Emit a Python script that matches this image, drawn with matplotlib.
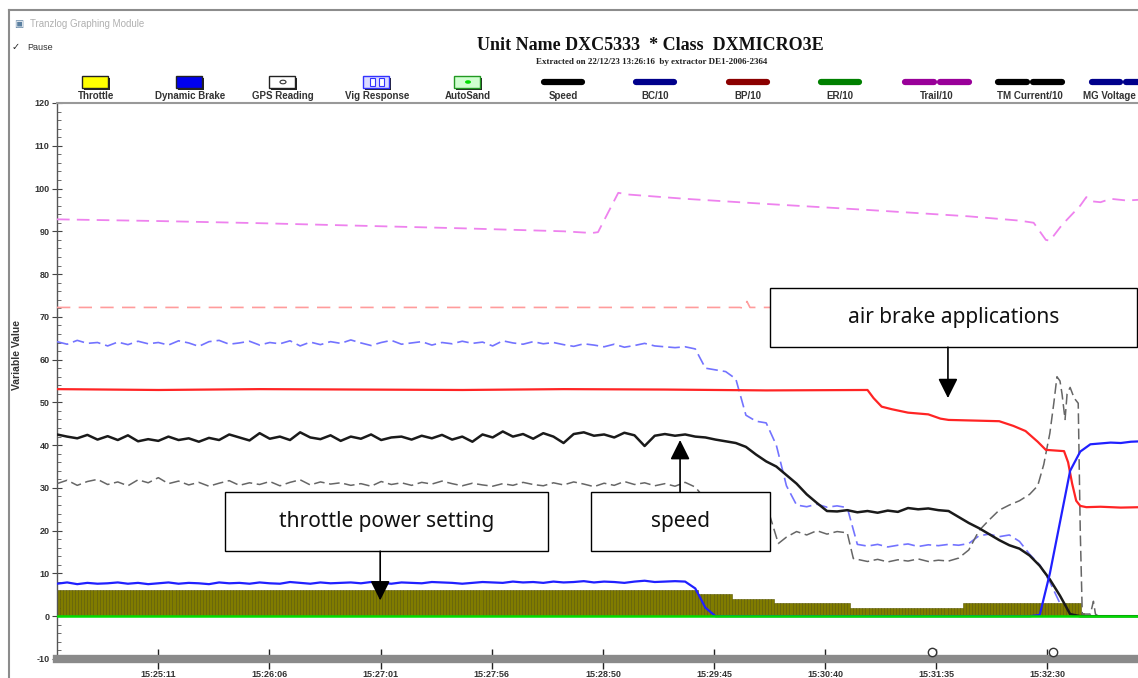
import numpy as np
import matplotlib.pyplot as plt
from matplotlib.patches import Rectangle, Circle
from matplotlib.lines import Line2D
from matplotlib.ticker import MultipleLocator, FuncFormatter

plt.rcParams['axes.unicode_minus'] = False

W, H = 1138, 678

# time axis: seconds after 15:25:11
T0 = 15 * 3600 + 25 * 60 + 11
TICK_STEP = 54.85  # the recorder labels its time axis at this spacing
grid_t = np.arange(-50, 490, 5)  # one sample every 5 s

speed = [
    42.5, 42.0, 41.6, 42.4, 41.3, 42.1, 41.2, 42.3, 40.9, 41.4,
    41.0, 42.0, 41.2, 41.6, 40.8, 41.7, 41.2, 42.5, 41.8, 41.1,
    42.8, 41.5, 42.0, 41.2, 43.0, 41.8, 41.4, 42.3, 41.0, 42.0,
    41.5, 42.5, 41.2, 41.8, 42.0, 41.3, 42.2, 41.6, 42.4, 41.3,
    42.0, 40.8, 42.5, 41.8, 43.2, 42.0, 42.6, 41.5, 42.8, 42.0,
    40.5, 42.6, 43.0, 42.2, 42.5, 41.8, 42.9, 42.3, 39.8, 42.2,
    42.6, 42.2, 42.5, 42.0, 41.8, 41.3, 40.9, 40.5, 39.6, 37.8,
    36.2, 35.0, 33.0, 31.0, 28.5, 26.5, 24.6, 24.5, 24.8, 24.3,
    24.6, 24.2, 24.7, 24.4, 25.3, 25.0, 25.2, 24.8, 24.6, 23.2,
    21.8, 20.6, 19.2, 17.8, 16.6, 15.8, 14.2, 11.8, 8.6, 4.8,
    0.5, 0.0, 0.0, 0.0, 0.0, 0.0, 0.0, 0.0,
]

dyn_brake = [
    7.6, 7.9, 7.5, 7.8, 7.6, 7.7, 7.9, 7.6, 7.8, 7.5,
    7.7, 7.9, 7.6, 7.8, 7.7, 7.5, 7.9, 7.7, 7.8, 7.6,
    7.9, 7.7, 7.6, 8.0, 7.8, 7.6, 7.9, 7.7, 7.8, 7.9,
    7.7, 8.0, 7.8, 7.6, 7.9, 7.8, 7.7, 8.0, 7.9, 7.8,
    7.6, 7.8, 8.0, 7.9, 7.8, 8.1, 7.9, 8.0, 7.8, 8.1,
    7.9, 8.0, 8.2, 7.9, 8.1, 8.0, 7.8, 8.1, 8.3, 8.0,
    8.1, 8.2, 8.1, 6.5, 2.0, 0.0, 0.0, 0.0, 0.0, 0.0,
    0.0, 0.0, 0.0, 0.0, 0.0, 0.0, 0.0, 0.0, 0.0, 0.0,
    0.0, 0.0, 0.0, 0.0, 0.0, 0.0, 0.0, 0.0, 0.0, 0.0,
    0.0, 0.0, 0.0, 0.0, 0.0, 0.0, 0.0, 0.3, 10.0, 22.0,
    34.0, 38.5, 40.2, 40.4, 40.6, 40.5, 40.8, 40.9,
]

vig_response = [
    64.2, 63.6, 64.5, 63.8, 64.0, 63.2, 64.1, 63.5, 64.3, 63.7,
    64.0, 63.4, 64.4, 63.9, 63.1, 64.2, 64.5, 63.6, 63.9, 64.3,
    63.4, 64.0, 63.7, 64.4, 63.2, 64.1, 63.5, 64.2, 63.8, 64.6,
    63.9, 63.3, 64.0, 64.5, 63.6, 63.9, 64.2, 63.4, 64.0, 63.7,
    64.3, 63.8, 64.1, 63.2, 64.4, 63.9, 63.6, 64.2, 63.7, 64.0,
    63.5, 63.1, 63.7, 63.4, 63.0, 63.6, 62.9, 63.3, 63.8, 63.2,
    63.0, 62.8, 63.0, 62.5, 58.0, 57.6, 57.2, 55.5, 47.0, 45.6,
    45.2, 40.0, 30.5, 26.0, 25.6, 26.2, 25.5, 25.8, 25.4, 16.8,
    16.4, 16.8, 16.2, 16.6, 16.9, 16.3, 16.7, 16.5, 16.8, 16.6,
    17.0, 18.8, 19.2, 18.6, 19.0, 17.5, 14.5, 12.0, 8.0, 3.0,
    np.nan, np.nan, np.nan, np.nan, np.nan, np.nan, np.nan, np.nan,
]

# TM current / 10 (grey dashed): 5 s samples up to 245 s, then irregular tail
tm_head = [
    31.0, 31.8, 30.6, 31.5, 32.0, 30.8, 31.4, 30.5, 31.9, 31.2,
    32.4, 31.0, 31.6, 30.7, 31.3, 30.4, 31.1, 31.7, 30.6, 31.2,
    30.8, 31.5, 30.5, 31.3, 31.9, 30.7, 31.4, 30.9, 31.2, 30.6,
    31.0, 30.4, 31.5, 30.8, 31.2, 30.6, 31.3, 30.9, 31.6, 31.0,
    30.5, 31.1, 30.7, 30.4, 31.0, 30.6, 31.3, 30.8, 30.5, 31.2,
    30.7, 31.4, 30.9, 30.3, 31.1, 30.6, 31.5, 30.8, 31.2, 30.5,
]
tm_tail_t = [250, 255, 260, 265, 268, 275, 285, 295, 302, 306, 310, 315, 320,
             325, 330, 335, 340, 343, 350, 355, 360, 365, 370, 375, 380, 385,
             390, 395, 400, 405, 410, 415, 420, 425, 430, 434, 437, 440, 442,
             443.5, 445, 446, 447.5, 448.5, 450, 452, 454, 455, 456, 460, 461.5,
             462.5, 464, 470, 485]
tm_tail = [31.0, 30.4, 31.3, 30.2, 28.5, 27.0, 25.0, 23.5, 23.2, 17.0, 18.5,
           19.8, 19.0, 20.0, 19.2, 19.8, 19.5, 13.5, 12.8, 13.3, 12.7, 13.2,
           12.9, 13.4, 12.8, 13.1, 12.9, 13.6, 15.5, 20.0, 22.5, 24.8, 26.0,
           27.0, 28.5, 30.5, 35.5, 42.8, 50.0, 56.0, 55.0, 52.0, 46.0, 52.0,
           53.5, 51.0, 49.8, 20.0, 0.5, 0.5, 3.5, 0.5, 0.0, 0.0, 0.0]

bp_t = [-50, 0, 50, 100, 150, 200, 250, 300, 350, 353, 357, 362, 370, 380,
        386, 390, 415, 422, 428, 434, 438, 447, 449, 451, 453, 455, 458, 465,
        475, 485]
bp = [53.1, 52.9, 53.1, 53.0, 52.9, 53.1, 53.0, 52.8, 52.9, 51.0, 49.0, 48.4,
      47.6, 47.2, 46.2, 45.9, 45.6, 44.5, 43.3, 40.8, 38.9, 38.6, 36.0, 31.0,
      27.0, 25.8, 25.5, 25.6, 25.4, 25.5]

trail_t = [-50, 0, 50, 100, 150, 200, 214, 217, 227, 232, 260, 300, 350, 400,
           425, 432, 438, 440, 446, 455, 458, 461, 465, 470, 478, 485]
trail = [92.8, 92.4, 91.9, 91.3, 90.7, 90.0, 89.6, 89.8, 99.0, 98.6, 97.6,
         96.4, 95.0, 93.5, 92.5, 92.0, 88.0, 87.8, 91.5, 96.0, 98.0, 97.0,
         96.8, 97.6, 97.2, 97.4]

er_t = [-50, 100, 287, 289, 290.5, 292, 485]
er = [72.2, 72.2, 72.2, 72.0, 73.6, 72.2, 72.2]

autosand_t = [-50, 485]
autosand = [0.0, 0.0]

# throttle notch: level holds from each start time until the next one
throttle_start = [-50, 266.5, 282.7, 303.9, 340.4, 396.6, 454.3, 456.5]
throttle_level = [6.2, 5.1, 4.1, 3.0, 2.0, 3.0, 0.8]

gps_t = [382, 441.5]
gps_y = [-8.3, -8.3]


def fx(x):
    return x / W


def fy(y):
    return 1 - y / H


fig = plt.figure(figsize=(W / 100, H / 100), dpi=100)
ax = fig.add_axes([fx(57), fy(659), fx(W - 57), (659 - 103) / H])

# throttle bars
bar_t = np.arange(throttle_start[0], throttle_start[-1], 1.5)
bar_h = np.array([throttle_level[np.searchsorted(throttle_start, t, side='right') - 1]
                  for t in bar_t])
ax.bar(bar_t, bar_h, width=1.5, align='edge', color='#807c00',
       edgecolor='#5a5700', linewidth=0.4, zorder=2)

ax.plot(trail_t, trail, color='#ee82ee', lw=1.3, dashes=(7, 4), zorder=3)
ax.plot(er_t, er, color='#ff9c9c', lw=1.2, dashes=(8, 5), zorder=3)
ax.plot(grid_t, vig_response, color='#7373ff', lw=1.2, dashes=(7, 3), zorder=3)
ax.plot(bp_t, bp, color='#ff2424', lw=1.6, zorder=4)
ax.plot(np.concatenate([grid_t[:60], tm_tail_t]), tm_head + tm_tail,
        color='#666666', lw=1.1, dashes=(7, 3), zorder=3)
ax.plot(grid_t, speed, color='#1a1a1a', lw=1.8, zorder=5)
ax.plot(grid_t, dyn_brake, color='#2020ff', lw=1.6, zorder=5)
ax.plot(autosand_t, autosand, color='#00dd00', lw=1.8, zorder=6)
ax.plot(gps_t, gps_y, 'o', mfc='white', mec='#333333', ms=6, mew=1, zorder=6,
        clip_on=False)

ax.set_xlim(-50, 483.5)
ax.set_ylim(-10, 120)

ax.yaxis.set_major_locator(MultipleLocator(10))
ax.yaxis.set_minor_locator(MultipleLocator(2))
ax.xaxis.set_major_locator(MultipleLocator(TICK_STEP))


def hms(t, pos):
    s = int(round(T0 + t))
    return f"{s // 3600}:{(s % 3600) // 60:02d}:{s % 60:02d}"


ax.xaxis.set_major_formatter(FuncFormatter(hms))
ax.tick_params(axis='y', which='major', direction='inout', length=7, width=0.8,
               color='#444444', labelsize=6.5, labelcolor='#333333', pad=2)
ax.tick_params(axis='y', which='minor', direction='in', length=3, width=0.6,
               color='#555555')
ax.tick_params(axis='x', which='major', direction='inout', length=14, width=1,
               color='#222222', labelsize=6.5, labelcolor='#333333', pad=1)
for lab in ax.get_xticklabels() + ax.get_yticklabels():
    lab.set_fontweight('bold')
    lab.set_family('Liberation Sans')

ax.spines['right'].set_visible(False)
ax.spines['left'].set_color('#555555')
ax.spines['left'].set_linewidth(1)
ax.spines['top'].set_color('#999999')
ax.spines['top'].set_linewidth(1.5)
ax.spines['bottom'].set_color('#8a8a8a')
ax.spines['bottom'].set_linewidth(6)

# annotation boxes
ann_font = dict(family='Noto Sans', fontsize=15, color='#111111')
boxes = [
    ((33.1, 15.2), 159.3, 13.8, "throttle power setting"),
    ((213.6, 15.2), 88.3, 13.8, "speed"),
    ((301.9, 62.9), 181.1, 13.8, "air brake applications"),
]
for (x0, y0), bw, bh, label in boxes:
    ax.add_patch(Rectangle((x0, y0), bw, bh, facecolor='white',
                           edgecolor='black', lw=1, zorder=8))
    ax.text(x0 + bw / 2, y0 + bh / 2, label, ha='center', va='center',
            zorder=9, **ann_font)

arrows = [((109.5, 15.2), (109.5, 3.7)),
          ((257.5, 29.0), (257.5, 41.2)),
          ((389.7, 62.9), (389.7, 51.0))]
for start, tip in arrows:
    ax.annotate('', xy=tip, xytext=start, zorder=9,
                arrowprops=dict(arrowstyle='-|>,head_length=0.6,head_width=0.3',
                                mutation_scale=20, color='black', lw=1.2,
                                shrinkA=0, shrinkB=0))

# window frame and header
fig.add_artist(Line2D([fx(9), fx(W)], [fy(10), fy(10)], color='#8c8c8c', lw=1.5))
fig.add_artist(Line2D([fx(9), fx(9)], [fy(10), fy(H)], color='#8c8c8c', lw=1.5))
fig.text(fx(14), fy(24), "\u25a3", fontsize=7, color='#5a7fa0', va='center')
fig.text(fx(30), fy(24), "Tranzlog Graphing Module", fontsize=7,
         color='#b0b0b0', va='center', family='Liberation Sans')
fig.text(fx(12), fy(47), "\u2713", fontsize=7, color='#222222', va='center')
fig.text(fx(27), fy(48), "Pause", fontsize=6.5, color='#333333', va='center',
         family='Liberation Sans')
fig.text(fx(650), fy(46), "Unit Name DXC5333  * Class  DXMICRO3E", ha='center',
         va='center', family='Liberation Serif', weight='bold', fontsize=13,
         color='#111111')
fig.text(fx(652), fy(62), "Extracted on 22/12/23 13:26:16  by extractor DE1-2006-2364",
         ha='center', va='center', family='Liberation Serif', weight='bold',
         fontsize=6.5, color='#222222')
fig.text(fx(17), fy(355), "Variable Value", rotation=90, ha='center', va='center',
         family='Liberation Sans', weight='bold', fontsize=7.5, color='#333333')

# legend row
lab_font = dict(family='Liberation Sans', weight='bold', fontsize=7,
                color='#333333', ha='center', va='center')
box_items = [("Throttle", 96, '#ffff00', '#222222'),
             ("Dynamic Brake", 190, '#0000ee', '#222222'),
             ("GPS Reading", 283, 'white', '#222222'),
             ("Vig Response", 377, '#dcdcff', '#3333ff'),
             ("AutoSand", 468, '#d0ffd0', '#229922')]
for name, cx, fc, ec in box_items:
    fig.add_artist(Rectangle((fx(cx - 12), fy(90)), 26 / W, 12 / H,
                             facecolor='#222222', edgecolor='none'))
    fig.add_artist(Rectangle((fx(cx - 14), fy(88)), 26 / W, 12 / H,
                             facecolor=fc, edgecolor=ec, lw=1))
    fig.text(fx(cx), fy(96), name, **lab_font)
fig.add_artist(Circle((fx(283), fy(82)), 3 / W, facecolor='white',
                      edgecolor='#333333', lw=0.8))
for dx in (-6, 3):
    fig.add_artist(Rectangle((fx(377 + dx - 1), fy(86)), 5 / W, 8 / H,
                             facecolor='white', edgecolor='#3333ff', lw=0.8))
fig.add_artist(Circle((fx(468), fy(82)), 3 / W, facecolor='#00dd00',
                      edgecolor='none'))

line_items = [("Speed", 563, 'black', 1), ("BC/10", 655, '#00008b', 1),
              ("BP/10", 748, '#8b0000', 1), ("ER/10", 840, '#008000', 1),
              ("Trail/10", 937, '#990099', 2), ("TM Current/10", 1030, 'black', 2)]
for name, cx, col, n in line_items:
    if n == 1:
        segs = [(cx - 19, cx + 19)]
    else:
        segs = [(cx - 32, cx - 3), (cx + 3, cx + 32)]
    for a, b in segs:
        fig.add_artist(Line2D([fx(a), fx(b)], [fy(82), fy(82)], color=col,
                              lw=4.5, solid_capstyle='round'))
    fig.text(fx(cx), fy(96), name, **lab_font)
for a, b in [(1092, 1120), (1126, 1150)]:
    fig.add_artist(Line2D([fx(a), fx(b)], [fy(82), fy(82)], color='#00008b',
                          lw=4.5, solid_capstyle='round'))
fig.text(fx(1083), fy(96), "MG Voltage", family='Liberation Sans', weight='bold',
         fontsize=7, color='#333333', ha='left', va='center')

fig.savefig('out.png', dpi=100)
